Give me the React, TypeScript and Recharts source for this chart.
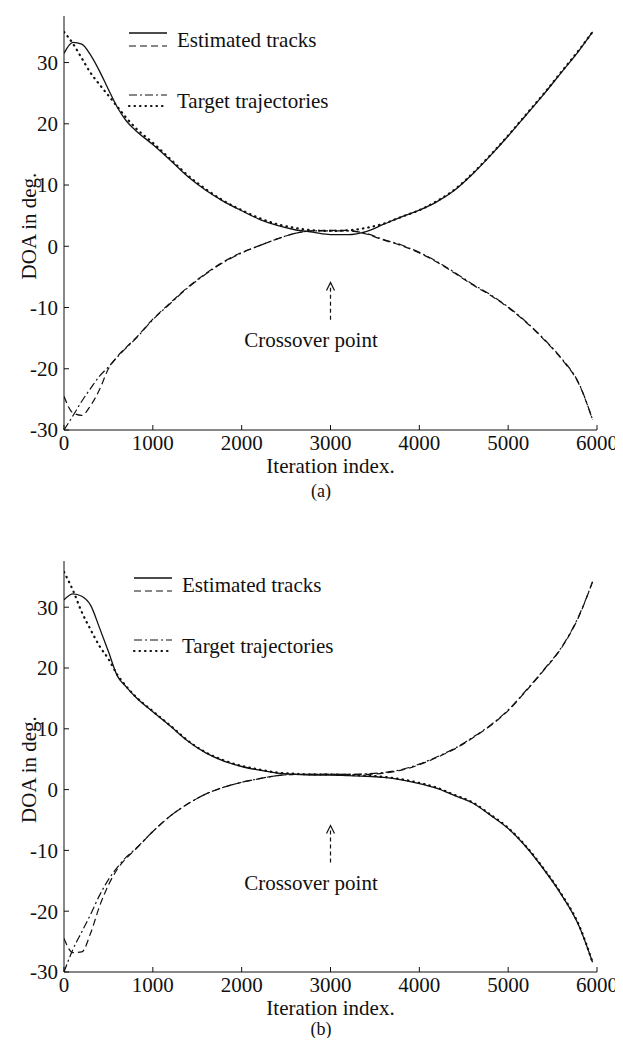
import {
    LineChart,
    Line,
    XAxis,
    YAxis,
    Legend,
    Label,
    ReferenceLine,
    ReferenceDot
} from "recharts";

const FONT = '"Liberation Serif", "Times New Roman", serif';
const INK = "#111";

const iterations = [
    0, 100, 200, 300, 400, 500, 600, 700, 800,
    1000, 1200, 1400, 1600, 1800, 2000, 2200, 2400, 2600, 2800,
    3000, 3200, 3400, 3600, 3800, 4000, 4200, 4400, 4600, 4800,
    5000, 5200, 5400, 5600, 5800, 5950
];

// panel (a): tracks bounce at the crossover
const estUpperA = [
    31.5, 33.3, 33.0, 31.2, 28.6, 25.6, 22.7, 20.5, 19.0,
    16.6, 14.0, 11.3, 9.1, 7.3, 5.8, 4.4, 3.4, 2.7, 2.3,
    1.9, 1.9, 2.4, 3.6, 4.8, 5.9, 7.3, 9.2, 11.8, 14.8,
    18.0, 21.4, 24.8, 28.4, 32.0, 35.0
];
const estLowerA = [
    -24.5, -27.2, -27.6, -26.0, -23.4, -20.0, -18.0, -16.5, -15.1,
    -11.9, -9.2, -6.6, -4.4, -2.5, -1.0, 0.1, 1.2, 2.1, 2.5,
    2.6, 2.6, 2.0, 1.0, 0.1, -1.1, -2.6, -4.4, -6.3, -8.0,
    -10.0, -12.4, -15.2, -18.4, -22.6, -28.3
];
const tgtUpperA = [
    35.0, 33.1, 30.7, 28.3, 26.4, 24.6, 22.8, 21.0, 19.4,
    16.9, 14.2, 11.5, 9.3, 7.4, 5.9, 4.6, 3.6, 3.0, 2.6,
    2.5, 2.6, 3.0, 3.7, 4.8, 5.9, 7.4, 9.3, 11.9, 14.9,
    18.1, 21.5, 24.9, 28.5, 32.1, 35.0
];
const tgtLowerA = [
    -30.0, -27.7, -25.3, -23.2, -21.2, -19.7, -18.1, -16.6, -15.2,
    -12.0, -9.3, -6.7, -4.5, -2.6, -1.1, 0.1, 1.2, 2.1, 2.5,
    2.5, 2.5, 2.1, 1.1, 0.2, -1.0, -2.5, -4.3, -6.2, -7.9,
    -9.9, -12.3, -15.1, -18.3, -22.5, -28.3
];

// panel (b): tracks cross over
const estFallB = [
    31.2, 32.2, 31.8, 30.3, 26.6, 22.7, 18.7, 16.9, 15.3,
    12.8, 10.4, 7.9, 6.0, 4.7, 3.8, 3.2, 2.7, 2.5, 2.4,
    2.4, 2.3, 2.2, 2.0, 1.6, 1.0, 0.2, -1.0, -2.2, -4.2,
    -6.4, -9.4, -13.1, -17.3, -22.5, -28.4
];
const estRiseB = [
    -24.5, -26.8, -26.7, -23.6, -19.2, -15.7, -13.1, -11.3, -9.9,
    -6.9, -4.3, -2.3, -0.7, 0.4, 1.2, 1.8, 2.3, 2.5, 2.5,
    2.5, 2.5, 2.5, 2.7, 3.2, 4.1, 5.3, 6.7, 8.5, 10.5,
    13.0, 16.2, 19.6, 23.3, 28.6, 34.2
];
const tgtFallB = [
    35.8, 32.8, 29.2, 26.3, 23.6, 21.5, 18.9, 17.0, 15.4,
    12.9, 10.5, 8.0, 6.1, 4.8, 3.9, 3.3, 2.8, 2.6, 2.5,
    2.5, 2.4, 2.3, 2.1, 1.7, 1.1, 0.3, -0.9, -2.1, -4.1,
    -6.3, -9.3, -13.0, -17.2, -22.4, -28.4
];
const tgtRiseB = [
    -30.0, -26.3, -23.4, -20.5, -17.4, -14.8, -12.8, -11.1, -9.8,
    -6.9, -4.3, -2.3, -0.7, 0.4, 1.2, 1.8, 2.3, 2.5, 2.5,
    2.5, 2.5, 2.6, 2.8, 3.3, 4.2, 5.4, 6.8, 8.6, 10.6,
    13.1, 16.3, 19.7, 23.4, 28.7, 34.2
];

const xTicks = [0, 1000, 2000, 3000, 4000, 5000, 6000];
const yTicks = [-30, -20, -10, 0, 10, 20, 30];

// annotation anchors, in data units
const arrowX = 3000;
const arrowTip = -5.9;
const arrowTail = -12.0;
const noteX = 2780;
const noteY = -15.3;

const SOLID = { dash: undefined, width: 1.3, cap: "butt" };
const DASHED = { dash: "7 4", width: 1.2, cap: "butt" };
const DASHDOT = { dash: "8 3 2 3", width: 1.2, cap: "butt" };
const DOTTED = { dash: "0.5 5", width: 2.2, cap: "round" };

function buildRows(cols: Record<string, number[]>) {
    return iterations.map((iter, i) => {
        const row: Record<string, number> = { iter };
        Object.keys(cols).forEach((k) => {
            row[k] = cols[k][i];
        });
        return row;
    });
}

const rowsA = buildRows({
    estUpper: estUpperA,
    estLower: estLowerA,
    tgtUpper: tgtUpperA,
    tgtLower: tgtLowerA
});

const rowsB = buildRows({
    estFall: estFallB,
    estRise: estRiseB,
    tgtFall: tgtFallB,
    tgtRise: tgtRiseB
});

const seriesA = [
    { key: "tgtUpper", style: DOTTED },
    { key: "tgtLower", style: DASHDOT },
    { key: "estUpper", style: SOLID },
    { key: "estLower", style: DASHED }
];

const seriesB = [
    { key: "tgtFall", style: DOTTED },
    { key: "tgtRise", style: DASHDOT },
    { key: "estFall", style: SOLID },
    { key: "estRise", style: DASHED }
];

const tickStyle = { fontSize: 21, fill: INK, fontFamily: FONT };

function YTitle(props: any) {
    const vb = props.viewBox || {};
    const cx = (vb.x || 0) + 21;
    const cy = (vb.y || 0) + (vb.height || 0) / 2 + 3;
    return (
        <text
            x={cx}
            y={cy}
            transform={`rotate(-90 ${cx} ${cy})`}
            textAnchor="middle"
            dominantBaseline="central"
            fontSize={21}
            fontFamily={FONT}
            fill={INK}
        >
            DOA in deg.
        </text>
    );
}

function ArrowShape(p: any) {
    const { x1, y1, x2, y2 } = p;
    return (
        <g stroke={INK} strokeWidth={1.2} fill="none">
            <line x1={x1} y1={y1} x2={x2} y2={y2 + 2} strokeDasharray="4 3" />
            <polyline points={`${x2 - 4},${y2 + 8} ${x2},${y2} ${x2 + 4},${y2 + 8}`} />
        </g>
    );
}

function KeyBox() {
    const row = (y: number, s: typeof SOLID) => (
        <line
            x1={0}
            y1={y}
            x2={38}
            y2={y}
            stroke={INK}
            strokeWidth={s.width}
            strokeDasharray={s.dash}
            strokeLinecap={s.cap as any}
        />
    );
    return (
        <svg width={240} height={92} style={{ overflow: "visible", display: "block" }}>
            {row(8, SOLID)}
            {row(21, DASHED)}
            <text x={48} y={15} dominantBaseline="central" fontSize={21} fontFamily={FONT} fill={INK}>
                Estimated tracks
            </text>
            {row(70, DASHDOT)}
            {row(81, DOTTED)}
            <text x={48} y={76} dominantBaseline="central" fontSize={21} fontFamily={FONT} fill={INK}>
                Target trajectories
            </text>
        </svg>
    );
}

type PanelProps = {
    rows: Record<string, number>[];
    series: { key: string; style: typeof SOLID }[];
    height: number;
    top: number;
    keyLeft: number;
    keyTop: number;
};

function Panel({ rows, series, height, top, keyLeft, keyTop }: PanelProps) {
    return (
        <LineChart
            width={614}
            height={height}
            data={rows}
            margin={{ top, right: 25, bottom: 4, left: 0 }}
        >
            <XAxis
                dataKey="iter"
                type="number"
                domain={[0, 6000]}
                ticks={xTicks}
                interval={0}
                allowDataOverflow
                height={48}
                tickSize={-5}
                tickMargin={10}
                stroke={INK}
                tick={tickStyle}
            >
                <Label
                    value="Iteration index."
                    position="insideBottom"
                    offset={5}
                    fill={INK}
                    fontSize={21}
                    fontFamily={FONT}
                />
            </XAxis>
            <XAxis
                xAxisId="top"
                orientation="top"
                dataKey="iter"
                type="number"
                domain={[0, 6000]}
                ticks={xTicks}
                interval={0}
                allowDataOverflow
                height={0}
                tickSize={-5}
                tick={false}
                stroke={INK}
            />
            <YAxis
                type="number"
                domain={[-30, 37.6]}
                ticks={yTicks}
                interval={0}
                allowDataOverflow
                width={56}
                tickSize={-5}
                tickMargin={11}
                stroke={INK}
                tick={tickStyle}
            >
                <Label content={YTitle} />
            </YAxis>
            <YAxis
                yAxisId="right"
                orientation="right"
                type="number"
                domain={[-30, 37.6]}
                ticks={yTicks}
                interval={0}
                allowDataOverflow
                width={0}
                tickSize={-5}
                tick={false}
                stroke={INK}
            />

            {series.map((s) => (
                <Line
                    key={s.key}
                    dataKey={s.key}
                    type="monotone"
                    dot={false}
                    activeDot={false}
                    stroke={INK}
                    strokeWidth={s.style.width}
                    strokeDasharray={s.style.dash}
                    strokeLinecap={s.style.cap as any}
                    isAnimationActive={false}
                />
            ))}

            <ReferenceLine
                segment={[
                    { x: arrowX, y: arrowTail },
                    { x: arrowX, y: arrowTip }
                ]}
                shape={ArrowShape}
            />
            <ReferenceDot
                x={noteX}
                y={noteY}
                r={0}
                fill="none"
                stroke="none"
                label={{
                    value: "Crossover point",
                    position: "center",
                    fill: INK,
                    fontSize: 21,
                    fontFamily: FONT
                }}
            />

            <Legend
                layout="vertical"
                verticalAlign="middle"
                align="center"
                content={() => <KeyBox />}
                wrapperStyle={{ top: keyTop, left: keyLeft, width: "auto" }}
            />
        </LineChart>
    );
}

const captionStyle = {
    position: "absolute" as const,
    left: 293,
    width: 40,
    textAlign: "center" as const,
    fontSize: 18,
    lineHeight: "18px"
};

export default function App() {
    return (
        <div
            style={{
                position: "relative",
                width: 614,
                height: 1030,
                fontFamily: FONT,
                color: INK
            }}
        >
            <style>{"html, body { overflow: hidden; } .recharts-surface { overflow: visible; }"}</style>
            <div style={{ position: "absolute", top: 0, left: 0 }}>
                <Panel rows={rowsA} series={seriesA} height={474} top={8} keyLeft={121} keyTop={17} />
            </div>
            <div style={{ ...captionStyle, top: 474 }}>(a)</div>
            <div style={{ position: "absolute", top: 512, left: 0 }}>
                <Panel rows={rowsB} series={seriesB} height={504} top={41} keyLeft={126} keyTop={50} />
            </div>
            <div style={{ ...captionStyle, top: 1012 }}>(b)</div>
        </div>
    );
}
